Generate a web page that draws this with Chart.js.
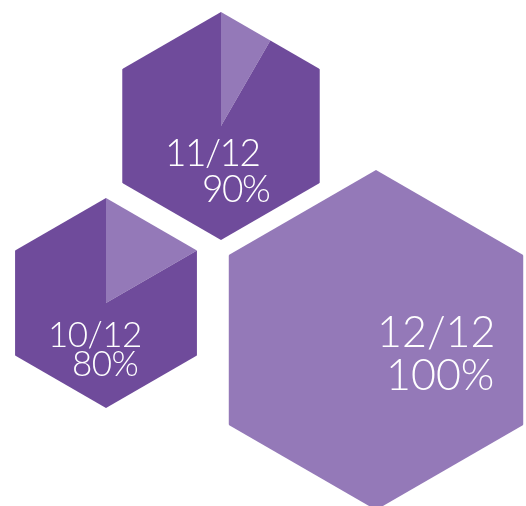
<!DOCTYPE html>
<html>
<head>
<meta charset="utf-8">
<script src="https://cdn.jsdelivr.net/npm/chart.js@4.4.0/dist/chart.umd.min.js"></script>
<style>
    html, body { margin: 0; padding: 0; background: #fff; overflow: hidden; }
    #wrap { position: relative; width: 526px; height: 506px; overflow: hidden; }
    .hex { position: absolute; }
    .lbl { position: absolute; color: #fff; font-family: Lato, 'Open Sans', sans-serif; font-weight: 300;
           white-space: nowrap; line-height: 1; z-index: 5; }
</style>
</head>
<body>
<div id="wrap"></div>
<script>
const labels = ['10/12', '11/12', '12/12'];
const done = [10, 11, 12];
const total = [12, 12, 12];
const percents = ['80%', '90%', '100%'];

const DARK = '#6f4b9b';
const LIGHT = '#9479b8';

// centre + circumradius of each hexagon, font size, spacing and where each text line starts (left, cap top)
const layout = [
    { cx: 106, cy: 303, r: 105, fs: 35, ls: -0.5, l1: [48, 322], l2: [72, 351] },
    { cx: 221, cy: 126, r: 114, fs: 37, ls: -1.5, l1: [165, 139], l2: [202, 175] },
    { cx: 376, cy: 340, r: 170, fs: 43, ls: 0, l1: [377, 316], l2: [386, 359] }
];

// clip the pie to a pointy-top hexagon inscribed in its circle
const hexClip = {
    id: 'hexClip',
    beforeDatasetsDraw(chart) {
        const arc = chart.getDatasetMeta(0).data[0];
        const ctx = chart.ctx;
        ctx.save();
        ctx.beginPath();
        for (let k = 0; k < 6; k++) {
            const a = -Math.PI / 2 + k * Math.PI / 3;
            const x = arc.x + arc.outerRadius * Math.cos(a);
            const y = arc.y + arc.outerRadius * Math.sin(a);
            if (k === 0) ctx.moveTo(x, y); else ctx.lineTo(x, y);
        }
        ctx.closePath();
        ctx.clip();
    },
    afterDatasetsDraw(chart) {
        chart.ctx.restore();
    }
};

const wrap = document.getElementById('wrap');

labels.forEach((label, i) => {
    const L = layout[i];
    const box = document.createElement('div');
    box.className = 'hex';
    box.style.left = (L.cx - L.r) + 'px';
    box.style.top = (L.cy - L.r) + 'px';
    box.style.width = (2 * L.r) + 'px';
    box.style.height = (2 * L.r) + 'px';
    const canvas = document.createElement('canvas');
    box.appendChild(canvas);
    wrap.appendChild(box);

    const complete = done[i] === total[i];
    new Chart(canvas.getContext('2d'), {
        type: 'pie',
        data: {
            labels: ['Remaining', 'Done'],
            datasets: [{
                data: [total[i] - done[i], done[i]],
                backgroundColor: [LIGHT, complete ? LIGHT : DARK],
                borderWidth: 0
            }]
        },
        options: {
            responsive: true,
            maintainAspectRatio: false,
            animation: false,
            layout: { padding: 0 },
            plugins: {
                legend: { display: false },
                tooltip: { enabled: false }
            }
        },
        plugins: [hexClip]
    });

    [[label, L.l1], [percents[i], L.l2]].forEach(([txt, pos]) => {
        const d = document.createElement('div');
        d.className = 'lbl';
        d.textContent = txt;
        d.style.fontSize = L.fs + 'px';
        d.style.letterSpacing = L.ls + 'px';
        d.style.left = pos[0] + 'px';
        d.style.top = (pos[1] - 0.17 * L.fs) + 'px';
        wrap.appendChild(d);
    });
});
</script>
</body>
</html>
